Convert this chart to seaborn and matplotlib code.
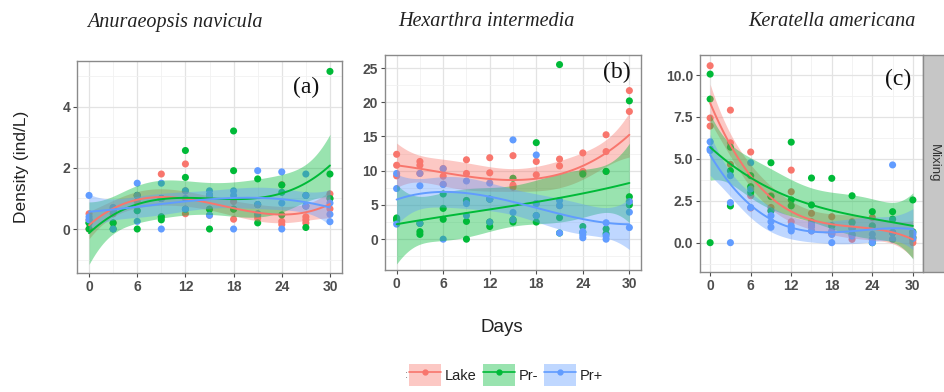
import numpy as np
import pandas as pd
import matplotlib
matplotlib.use("Agg")
import matplotlib.pyplot as plt
from matplotlib.patches import Patch, Rectangle
from matplotlib.lines import Line2D
import seaborn as sns

# ---- data: densities (ind/L), three replicates per sampling day ----
days = [0, 3, 6, 9, 12, 15, 18, 21, 24, 27, 30]
treatments = ["Lake", "Pr-", "Pr+"]
species = ["Anuraeopsis navicula", "Hexarthra intermedia", "Keratella americana"]
panel_tags = ["(a)", "(b)", "(c)"]

ana_lake = [[0.5, 0.0, 0.3], [0.7, 0.2, 0.5], [1.1, 0.6, 0.9], [1.8, 0.4, 1.0],
            [2.13, 0.5, 1.25], [0.45, 0.65, 1.1], [0.32, 0.65, 0.9], [0.45, 0.35, 0.8],
            [0.15, 1.45, 0.25], [0.4, 0.3, 0.2], [1.15, 1.0, 0.66]]
ana_prm = [[0.0, 0.2, 0.2], [0.2, 0.0, 0.6], [0.6, 0.0, 1.1], [0.3, 0.4, 1.0],
           [2.57, 1.69, 0.65], [0.0, 0.65, 1.1], [3.21, 1.91, 0.65], [1.64, 0.2, 0.8],
           [1.2, 0.46, 1.44], [0.05, 0.75, 1.1], [5.16, 1.8, 1.0]]
ana_prp = [[1.1, 0.3, 0.4], [0.0, 0.6, 0.7], [1.5, 0.25, 1.1], [1.5, 0.0, 1.0],
           [1.25, 0.65, 1.0], [1.25, 1.1, 0.45], [1.25, 1.1, 0.0], [1.91, 0.8, 0.5],
           [1.87, 0.85, 0.0], [1.8, 1.1, 0.75], [0.48, 0.24, 0.85]]

hex_lake = [[12.4, 10.8, 9.25], [11.35, 10.8, 9.6], [10.3, 9.2, 8.0], [11.6, 9.6, 5.65],
            [11.9, 9.7, 5.85], [12.2, 7.9, 7.6], [11.35, 9.4, 5.2], [11.7, 10.7, 4.9],
            [12.6, 9.9, 9.7], [15.25, 12.8, 9.9], [21.7, 18.65, 5.5]]
hex_prm = [[2.8, 2.9, 3.1], [1.1, 0.7, 2.3], [4.5, 2.9, 6.6], [5.65, 2.6, 0.0],
           [5.85, 1.85, 2.5], [8.9, 2.5, 2.85], [14.1, 3.45, 2.5], [25.5, 3.15, 0.9],
           [9.5, 1.85, 1.0], [9.9, 1.5, 0.8], [20.2, 6.2, 5.0]]
hex_prp = [[9.6, 7.4, 2.2], [7.8, 2.3, 9.6], [10.3, 8.0, 0.0], [8.5, 5.2, 3.45],
           [8.2, 2.5, 5.85], [14.5, 3.9, 2.85], [12.3, 3.45, 5.2], [5.65, 0.9, 4.9],
           [1.1, 0.6, 0.2], [2.4, 0.5, 0.0], [5.5, 3.95, 1.7]]

ker_lake = [[10.56, 7.44, 6.96], [7.91, 5.96, 4.67], [5.41, 2.8, 2.07], [2.1, 1.9, 2.8],
            [4.33, 3.04, 1.25], [1.75, 1.25, 0.7], [1.55, 1.0, 0.5], [1.25, 0.5, 0.2],
            [1.5, 1.0, 0.2], [1.4, 0.6, 0.2], [0.35, 0.15, 0.0]]
ker_prm = [[10.06, 8.57, 0.0], [5.7, 4.29, 2.19], [3.34, 3.0, 4.0], [4.77, 2.75, 1.9],
           [6.0, 2.55, 2.2], [3.86, 2.25, 1.0], [3.84, 1.0, 0.6], [2.8, 0.85, 1.2],
           [1.85, 1.0, 0.0], [1.85, 1.4, 0.6], [2.55, 0.65, 0.3]]
ker_prp = [[6.02, 5.6, 5.5], [4.0, 2.39, 0.0], [4.77, 3.2, 2.1], [1.61, 1.25, 0.92],
           [1.0, 0.85, 0.7], [1.1, 0.95, 0.7], [0.0, 0.7, 0.5], [0.85, 0.5, 0.4],
           [0.5, 0.2, 0.0], [4.64, 0.6, 0.2], [0.25, 0.6, 0.5]]

panel_data = [
    {"Lake": ana_lake, "Pr-": ana_prm, "Pr+": ana_prp},
    {"Lake": hex_lake, "Pr-": hex_prm, "Pr+": hex_prp},
    {"Lake": ker_lake, "Pr-": ker_prm, "Pr+": ker_prp},
]
y_limits = [(-1.44, 5.5), (-4.5, 26.9), (-1.75, 11.2)]
y_ticks = [[0, 2, 4], [0, 5, 10, 15, 20, 25], [0.0, 2.5, 5.0, 7.5, 10.0]]
x_ticks = [0, 6, 12, 18, 24, 30]

palette = {"Lake": "#F8766D", "Pr-": "#00BA38", "Pr+": "#619CFF"}


def poly_fit(x, y, grid, order=3, t=2.045):
    """Cubic least-squares trend with a pointwise 95% confidence band."""
    x = np.asarray(x, float)
    y = np.asarray(y, float)
    X = np.vander(x, order + 1)
    G = np.vander(grid, order + 1)
    beta, *_ = np.linalg.lstsq(X, y, rcond=None)
    resid = y - X @ beta
    dof = len(x) - (order + 1)
    s2 = resid @ resid / dof
    XtX_inv = np.linalg.inv(X.T @ X)
    fit = G @ beta
    se = np.sqrt(s2 * np.einsum("ij,jk,ik->i", G, XtX_inv, G))
    return fit, fit - t * se, fit + t * se


sns.set_theme(style="white")
plt.rcParams["font.family"] = ["Liberation Sans", "DejaVu Sans"]

fig = plt.figure(figsize=(9.45, 3.92), dpi=100)
W, H = 945.0, 392.0
boxes = [(77, 61, 342, 273), (385, 55, 641, 270), (700, 55, 923, 272)]
title_x = [175, 486, 832]
tag_pos = [(0.864, 0.873), (0.906, 0.92), (0.888, 0.889)]

grid_major = "#E3E3E3"
grid_minor = "#F1F1F1"
frame_col = "#8A8A8A"
tick_col = "#4D4D4D"

for k in range(3):
    x0, y0, x1, y1 = boxes[k]
    ax = fig.add_axes([x0 / W, 1 - y1 / H, (x1 - x0) / W, (y1 - y0) / H])

    rows = []
    for tr in treatments:
        for d, reps in zip(days, panel_data[k][tr]):
            for v in reps:
                rows.append({"Days": d, "Density": v, "Treatment": tr})
    df = pd.DataFrame(rows)

    sns.scatterplot(data=df, x="Days", y="Density", hue="Treatment", palette=palette,
                    s=26, linewidth=0, legend=False, ax=ax, zorder=2)

    grid = np.linspace(0, 30, 121)
    for tr in treatments:
        sub = df[df["Treatment"] == tr]
        fit, lo, hi = poly_fit(sub["Days"].values, sub["Density"].values, grid)
        ax.fill_between(grid, lo, hi, color=palette[tr], alpha=0.4, linewidth=0, zorder=3)
        sns.lineplot(x=grid, y=fit, color=palette[tr], linewidth=1.4, ax=ax, zorder=4)

    ax.set_xlim(-1.5, 31.5)
    ax.set_xticks(x_ticks)
    ax.set_xticks([3, 9, 15, 21, 27], minor=True)
    yt = y_ticks[k]
    step = yt[1] - yt[0]
    ax.set_yticks(yt)
    ax.set_yticks([v + step / 2 for v in [yt[0] - step] + list(yt)], minor=True)
    ax.set_ylim(*y_limits[k])
    if k == 2:
        ax.set_yticklabels([f"{v:.1f}" for v in yt])
    ax.grid(which="major", color=grid_major, linewidth=0.9, zorder=0)
    ax.grid(which="minor", color=grid_minor, linewidth=0.6, zorder=0)
    ax.set_axisbelow(True)
    ax.tick_params(axis="both", which="major", length=3, width=0.8, color=tick_col,
                   labelcolor=tick_col, labelsize=10, pad=2, direction="out",
                   bottom=True, left=True)
    ax.tick_params(which="minor", length=0)
    for sp in ax.spines.values():
        sp.set_color(frame_col)
        sp.set_linewidth(1.0)
    ax.set_xlabel("")
    ax.set_ylabel("")
    for lab in ax.get_xticklabels() + ax.get_yticklabels():
        lab.set_fontweight("bold")

    ax.text(tag_pos[k][0], tag_pos[k][1], panel_tags[k], transform=ax.transAxes,
            ha="center", va="center", fontsize=17, family="Liberation Serif",
            color="#111111", zorder=6)
    fig.text(title_x[k] / W, 1 - 22 / H, species[k], ha="center", va="center",
             fontsize=14.5, family="Liberation Serif", style="italic", color="#222222")

# facet strip on the right of the last panel
x0, y0, x1, y1 = boxes[2]
strip = Rectangle((923 / W, 1 - y1 / H), (945 - 923) / W, (y1 - y0) / H,
                  transform=fig.transFigure, facecolor="#C6C6C6", edgecolor="#8A8A8A",
                  linewidth=1.0, zorder=1)
fig.patches.append(strip)
fig.text(934 / W, 1 - (y0 + y1) / 2 / H, "Mixing", rotation=-90, ha="center",
         va="center", fontsize=9.5, color="#333333")

fig.text(22 / W, 1 - 167 / H, "Density (ind/L)", rotation=90, ha="center",
         va="center", fontsize=12.5, color="#222222")
fig.text(502 / W, 1 - 328 / H, "Days", ha="center", va="center", fontsize=13.5,
         color="#222222")

handles = [(Patch(facecolor=palette[tr], alpha=0.4, edgecolor="none"),
            Line2D([], [], color=palette[tr], marker="o", markersize=3.5, linewidth=1.2))
           for tr in treatments]
fig.text(407 / W, 1 - 375 / H, ":", ha="center", va="center", fontsize=8, color="#777777")
fig.legend(handles, treatments, loc="center", bbox_to_anchor=(506 / W, 1 - 375 / H),
           ncol=3, frameon=False, fontsize=10.5, handlelength=2.2, handleheight=2.0,
           handletextpad=0.25, columnspacing=0.4, borderpad=0.0,
           labelcolor="#222222")

fig.savefig("out.png", dpi=100)
